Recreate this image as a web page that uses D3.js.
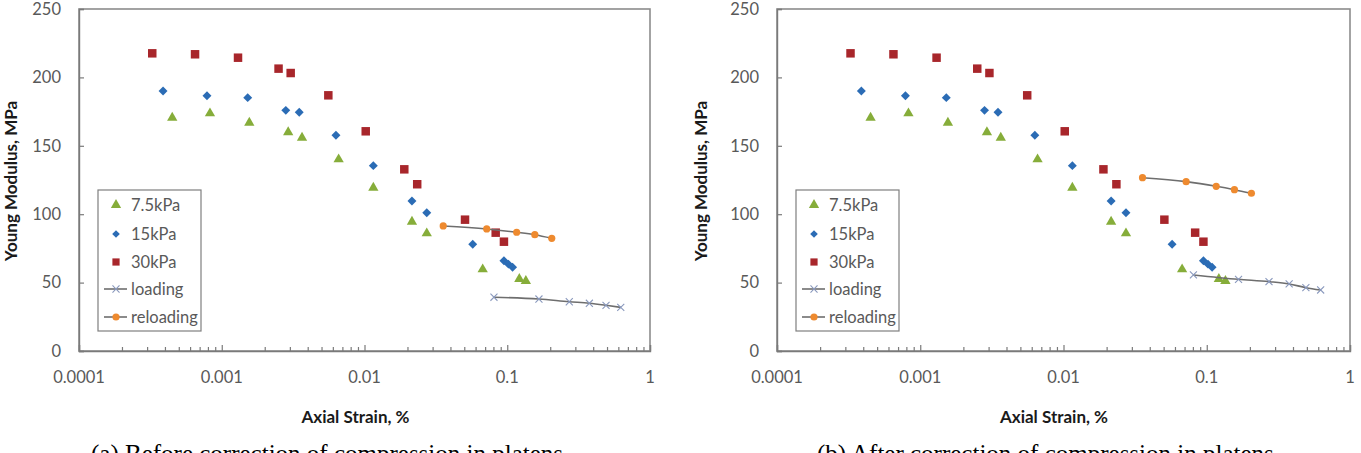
<!DOCTYPE html>
<html><head><meta charset="utf-8">
<script src="https://cdn.jsdelivr.net/npm/d3@7/dist/d3.min.js"></script>
<style>
html,body{margin:0;padding:0;background:#fff;overflow:hidden;}
svg{display:block;}
</style></head>
<body>
<svg id="chart" width="1361" height="453"></svg>
<script>
// ---------- data ----------
const yTicks = [0, 50, 100, 150, 200, 250];
const xTicks = [0.0001, 0.001, 0.01, 0.1, 1];
const xTickLabels = ["0.0001", "0.001", "0.01", "0.1", "1"];
const seriesNames = ["7.5kPa", "15kPa", "30kPa", "loading", "reloading"];

const strain75 = [0.00045, 0.000827, 0.00156, 0.00292, 0.00365, 0.00659, 0.01153, 0.0215, 0.0273, 0.0673, 0.1215, 0.135];
const modulus75 = [170.5, 173.7, 166.9, 159.9, 155.9, 140.1, 119.4, 94.5, 86.0, 59.7, 52.6, 51.2];
const strain15 = [0.000388, 0.000788, 0.00152, 0.00281, 0.00349, 0.00631, 0.01153, 0.0215, 0.0273, 0.0573, 0.0948, 0.102, 0.109];
const modulus15 = [190.1, 186.6, 185.2, 175.9, 174.5, 157.7, 135.5, 109.6, 101.1, 78.0, 66.0, 63.5, 61.2];
const strain30 = [0.000326, 0.00065, 0.0013, 0.0025, 0.00304, 0.00558, 0.0102, 0.019, 0.0234, 0.0506, 0.083, 0.0948];
const modulus30 = [217.6, 216.9, 214.4, 206.4, 203.2, 186.9, 160.6, 132.8, 121.9, 96.0, 86.5, 79.9];

const strainLoading = [0.0807, 0.1667, 0.272, 0.376, 0.492, 0.624];
const modulusLoadingA = [39.3, 38.0, 36.0, 34.9, 33.4, 31.9];
const modulusLoadingB = [55.6, 52.4, 50.7, 49.0, 46.3, 44.6];
const strainReloading = [0.0356, 0.0718, 0.1164, 0.156, 0.205];
const modulusReloadingA = [91.4, 89.2, 86.8, 85.0, 82.4];
const modulusReloadingB = [126.7, 123.8, 120.4, 117.9, 115.3];

const captions = ["(a) Before correction of compression in platens", "(b) After correction of compression in platens"];
const xTitle = "Axial Strain, %";
const yTitle = "Young Modulus, MPa";

// ---------- drawing ----------
const svg = d3.select("#chart");
const zip = (xs, ys) => xs.map((x, i) => ({x, y: ys[i]}));

const C = {
  green: "#86ad3a", blue: "#2b6cb5", red: "#a8262b", orange: "#ee8a2f",
  loadMark: "#8a99bd", line: "#6e6e6e", axis: "#8c8c8c", text: "#595959"
};
const tickFont = "Lato, 'Open Sans', sans-serif";

function panel(ox, w, loadingY, reloadingY, caption, captionX, yTitleX, xTitleX) {
  const top = 9, bottom = 351;
  const x = d3.scaleLog().domain([0.0001, 1]).range([ox, ox + w]);
  const y = d3.scaleLinear().domain([0, 250]).range([bottom, top]);
  const g = svg.append("g");

  // plot frame
  g.append("rect").attr("x", ox).attr("y", top).attr("width", w).attr("height", bottom - top)
    .attr("fill", "none").attr("stroke", C.axis).attr("stroke-width", 1.6);

  // y axis (ticks inside)
  const ya = d3.axisRight(y).tickValues(yTicks).tickSize(5).tickFormat("");
  const yg = g.append("g").attr("transform", `translate(${ox},0)`).call(ya);
  yg.select(".domain").attr("stroke", "#7a7a7a").attr("stroke-width", 1.4);
  yg.selectAll(".tick line").attr("stroke", "#7a7a7a").attr("stroke-width", 1.2);
  g.selectAll(".ylab").data(yTicks).enter().append("text")
    .attr("x", ox - 18).attr("y", d => y(d)).attr("dy", "0.35em")
    .attr("text-anchor", "end").attr("font-family", tickFont).attr("font-size", 16.5)
    .attr("fill", C.text).text(d => d);

  // x axis (ticks inside, upward)
  const minor = [];
  for (let e = -4; e < 0; e++) for (let k = 2; k <= 9; k++) minor.push(k * Math.pow(10, e));
  const xMin = d3.axisTop(x).tickValues(minor).tickSize(4).tickFormat("");
  const xg2 = g.append("g").attr("transform", `translate(0,${bottom})`).call(xMin);
  xg2.select(".domain").remove();
  xg2.selectAll(".tick line").attr("stroke", "#7a7a7a").attr("stroke-width", 1.2);
  const xMaj = d3.axisTop(x).tickValues(xTicks).tickSize(6).tickFormat("");
  const xg = g.append("g").attr("transform", `translate(0,${bottom})`).call(xMaj);
  xg.select(".domain").attr("stroke", "#7a7a7a").attr("stroke-width", 1.4);
  xg.selectAll(".tick line").attr("stroke", "#7a7a7a").attr("stroke-width", 1.2);
  g.selectAll(".xlab").data(xTicks).enter().append("text")
    .attr("x", d => x(d)).attr("y", 377).attr("dy", "0.35em")
    .attr("text-anchor", "middle").attr("font-family", tickFont).attr("font-size", 16.5)
    .attr("fill", C.text).text((d, i) => xTickLabels[i]);

  // axis titles
  g.append("text").attr("x", xTitleX).attr("y", 417).attr("dy", "0.35em")
    .attr("text-anchor", "middle").attr("font-family", tickFont).attr("font-weight", "bold")
    .attr("font-size", 17).attr("fill", "#1a1a1a").text(xTitle);
  g.append("text").attr("transform", `translate(${yTitleX},181) rotate(-90)`).attr("dy", "0.35em")
    .attr("text-anchor", "middle").attr("font-family", tickFont).attr("font-weight", "bold")
    .attr("font-size", 17).attr("fill", "#1a1a1a").text(yTitle);

  // series
  const tri = d3.symbol().type(d3.symbolTriangle).size(46);
  const dia = d3.symbol().type(d3.symbolSquare).size(40);
  const sq = d3.symbol().type(d3.symbolSquare).size(72);
  const cross = d3.symbol().type(d3.symbolX).size(34);

  g.selectAll(".s75").data(zip(strain75, modulus75)).enter().append("path")
    .attr("d", tri).attr("transform", d => `translate(${x(d.x)},${y(d.y)})`).attr("fill", C.green);
  g.selectAll(".s15").data(zip(strain15, modulus15)).enter().append("path")
    .attr("d", dia).attr("transform", d => `translate(${x(d.x)},${y(d.y)}) rotate(45)`).attr("fill", C.blue);
  g.selectAll(".s30").data(zip(strain30, modulus30)).enter().append("path")
    .attr("d", sq).attr("transform", d => `translate(${x(d.x)},${y(d.y)})`).attr("fill", C.red);

  const line = d3.line().x(d => x(d.x)).y(d => y(d.y)).curve(d3.curveMonotoneX);
  const ld = zip(strainLoading, loadingY);
  g.append("path").attr("d", line(ld)).attr("fill", "none").attr("stroke", C.line).attr("stroke-width", 1.6);
  g.selectAll(".ld").data(ld).enter().append("path")
    .attr("d", cross).attr("transform", d => `translate(${x(d.x)},${y(d.y)})`)
    .attr("fill", "none").attr("stroke", C.loadMark).attr("stroke-width", 1.1);
  const rd = zip(strainReloading, reloadingY);
  g.append("path").attr("d", line(rd)).attr("fill", "none").attr("stroke", C.line).attr("stroke-width", 1.6);
  g.selectAll(".rd").data(rd).enter().append("circle")
    .attr("cx", d => x(d.x)).attr("cy", d => y(d.y)).attr("r", 3.6).attr("fill", C.orange);

  // legend
  const lx = ox + 19, ly = 190, lw = 103, lh = 141;
  g.append("rect").attr("x", lx).attr("y", ly).attr("width", lw).attr("height", lh)
    .attr("fill", "#fff").attr("stroke", "#7f7f7f").attr("stroke-width", 1.2);
  const rows = [205, 234, 262, 289, 317];
  const mx = lx + 18, tx = lx + 33;
  g.append("path").attr("d", tri).attr("transform", `translate(${mx},${rows[0]})`).attr("fill", C.green);
  g.append("path").attr("d", dia).attr("transform", `translate(${mx},${rows[1]}) rotate(45) scale(0.85)`).attr("fill", C.blue);
  g.append("path").attr("d", sq).attr("transform", `translate(${mx},${rows[2]}) scale(0.85)`).attr("fill", C.red);
  g.append("line").attr("x1", lx + 6).attr("x2", lx + 29).attr("y1", rows[3]).attr("y2", rows[3])
    .attr("stroke", C.line).attr("stroke-width", 1.6);
  g.append("path").attr("d", cross).attr("transform", `translate(${mx},${rows[3]})`)
    .attr("fill", "none").attr("stroke", C.loadMark).attr("stroke-width", 1.1);
  g.append("line").attr("x1", lx + 6).attr("x2", lx + 29).attr("y1", rows[4]).attr("y2", rows[4])
    .attr("stroke", C.line).attr("stroke-width", 1.6);
  g.append("circle").attr("cx", mx).attr("cy", rows[4]).attr("r", 3.6).attr("fill", C.orange);
  seriesNames.forEach((n, i) => {
    g.append("text").attr("x", tx).attr("y", rows[i]).attr("dy", "0.35em")
      .attr("font-family", tickFont).attr("font-size", 16.5).attr("fill", C.text).text(n);
  });

  // caption (partly cut by bottom edge, as in the reference)
  g.append("text").attr("x", captionX).attr("y", 462)
    .attr("font-family", "'Liberation Serif', 'Times New Roman', serif").attr("font-size", 25)
    .attr("fill", "#000").text(caption);
}

panel(79, 571, modulusLoadingA, modulusReloadingA, captions[0], 91, 11, 355.5);
panel(777, 573, modulusLoadingB, modulusReloadingB, captions[1], 817, 701, 1054);
</script>
</body></html>
